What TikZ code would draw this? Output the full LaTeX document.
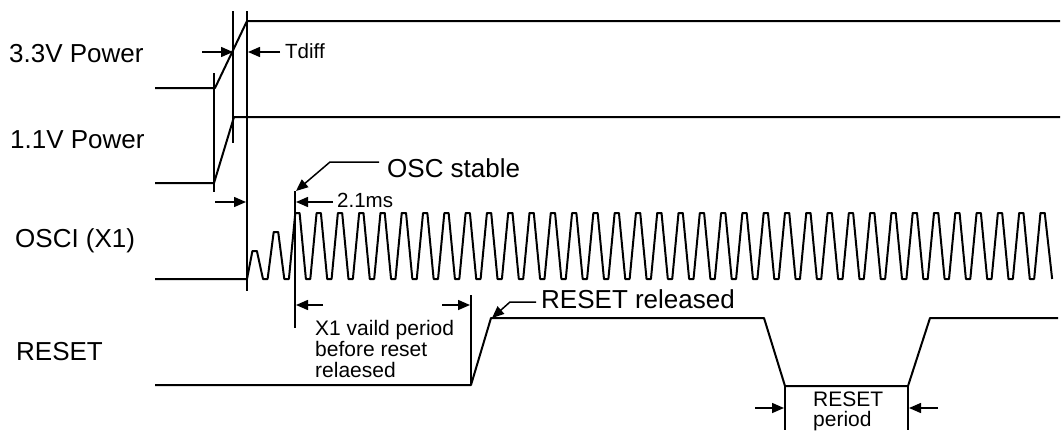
\documentclass[tikz,border=0pt]{standalone}
\usepackage{fontspec}
\setmainfont{Liberation Sans}
\usetikzlibrary{arrows.meta}
\begin{document}
\begin{tikzpicture}[x=1pt,y=-1pt,
  sig/.style={line width=2pt,line join=round},
  guide/.style={line width=1.5pt},
  dim/.style={line width=1.5pt,-{Triangle[length=12pt,width=10pt]}},
  biglab/.style={font=\fontsize{26}{30}\selectfont,inner sep=0pt,anchor=base west},
  smalllab/.style={font=\fontsize{20.5}{21}\selectfont,inner sep=0pt,anchor=base west},
  note/.style={font=\fontsize{21}{21}\selectfont,inner sep=0pt,anchor=north west,align=left}]
\useasboundingbox (0,0) rectangle (1061,432);

% labels
\node[biglab] (lab33) at (9,62) {3.3V Power};
\node[biglab] (lab11) at (10,148) {1.1V Power};
\node[biglab] (labosc) at (15,247) {OSCI (X1)};
\node[biglab] (labrst) at (16,360) {RESET};

% signals
\draw[sig] (155,88) -- (215,88) -- (247,21) -- (1060,21);
\draw[sig] (155,183) -- (214,183) -- (234,117) -- (1060,117);
\draw[sig] (155,279) -- (247,279) -- (252.4,251) -- (256.9,251) -- (263,279) -- (267.6,279)
  -- (273.7,232) -- (278.2,232) -- (284.3,279) -- (288.9,279)
  \foreach \k in {0,...,34} { -- ({295.3+21.29*\k},213) -- ({299.6+21.29*\k},213) -- ({305.9+21.29*\k},279) -- ({310.3+21.29*\k},279) }
  -- ({295.3+21.29*35},213) -- ({299.6+21.29*35},213) -- ({307+21.29*35},279);
\draw[sig] (155,385) -- (471,385) -- (491,318) -- (764,318) -- (785,386) -- (908,386) -- (930,318) -- (1058,318);

% marker lines
\coordinate (v1a) at (214,73);  \coordinate (v1b) at (214,192);
\coordinate (v2a) at (233,11);  \coordinate (v2b) at (233,143);
\coordinate (v3a) at (247,11);  \coordinate (v3b) at (247,291);
\coordinate (v4a) at (295,191); \coordinate (v4b) at (295,328);
\coordinate (v5a) at (471,295); \coordinate (v5b) at (471,385);
\coordinate (v6a) at (785,386); \coordinate (v6b) at (785,430);
\coordinate (v7a) at (908,386); \coordinate (v7b) at (908,430);
\draw[guide] (v1a) -- (v1b);
\draw[guide] (v2a) -- (v2b);
\draw[guide] (v3a) -- (v3b);
\draw[guide] (v4a) -- (v4b);
\draw[guide] (v5a) -- (v5b);
\draw[guide] (v6a) -- (v6b);
\draw[guide] (v7a) -- (v7b);

% Tdiff
\node[smalllab] (tdiff) at (285,58) {Tdiff};
\coordinate (t1) at (202,52); \coordinate (t1e) at (233,52);
\coordinate (t2) at (280,52); \coordinate (t2e) at (248,52);
\draw[dim] (t1) -- (t1e);
\draw[dim] (t2) -- (t2e);

% power to osc delay
\coordinate (p1) at (215,202); \coordinate (p1e) at (246,202);
\draw[dim] (p1) -- (p1e);

% OSC stable
\node[biglab] (osc) at (387,177) {OSC stable};
\coordinate (o1) at (379,162); \coordinate (o2) at (330,162); \coordinate (o3) at (296,191);
\draw[dim] (o1) -- (o2) -- (o3);

% 2.1ms
\node[smalllab] (ms) at (337,207) {2.1ms};
\coordinate (m1) at (333,202); \coordinate (m1e) at (296,202);
\draw[dim] (m1) -- (m1e);

% X1 valid period
\node[note] (x1) at (315,320) {X1 vaild period\\before reset\\relaesed};
\coordinate (x1a) at (323,305); \coordinate (x1ae) at (296,305);
\coordinate (x1b) at (442,305); \coordinate (x1be) at (470,305);
\draw[dim] (x1a) -- (x1ae);
\draw[dim] (x1b) -- (x1be);

% RESET released
\node[biglab] (rel) at (541,308) {RESET released};
\coordinate (r1) at (536,302); \coordinate (r2) at (510,302); \coordinate (r3) at (492,318);
\draw[dim] (r1) -- (r2) -- (r3);

% RESET period
\node[note,font=\fontsize{21}{20}\selectfont] (rper) at (813,392) {RESET\\period};
\coordinate (q1) at (755,408); \coordinate (q1e) at (784,408);
\coordinate (q2) at (938,408); \coordinate (q2e) at (909,408);
\draw[dim] (q1) -- (q1e);
\draw[dim] (q2) -- (q2e);
\end{tikzpicture}
\end{document}
